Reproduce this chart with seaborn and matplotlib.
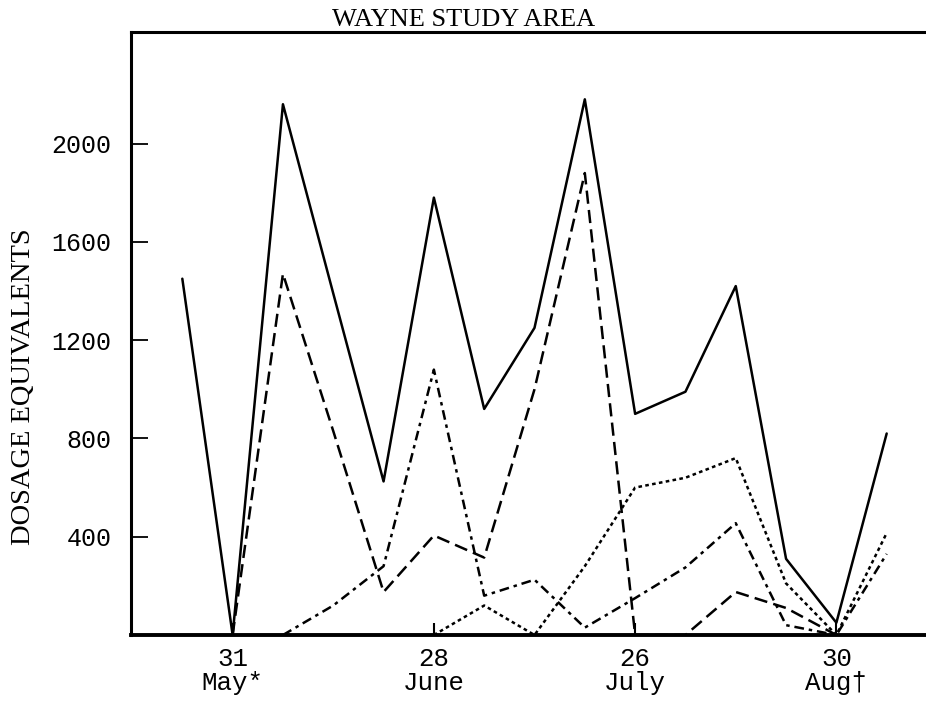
import numpy as np
import pandas as pd
import matplotlib
matplotlib.use("Agg")
import matplotlib.pyplot as plt
import seaborn as sns

# Weekly sampling occasions (index along the season)
sample = list(range(15))
tick_pos = [1, 5, 9, 13]
tick_labels = ["31\nMay*", "28\nJune", "26\nJuly", "30\nAug\u2020"]
y_ticks = [400, 800, 1200, 1600, 2000]

# Dosage equivalents per occasion for each curve
total = [1450, 0, 2160, 1390, 625, 1780, 920, 1250, 2180, 900, 990, 1420, 310, 50, 820]
long_dash = [np.nan, 0, 1470, 830, 175, 405, 315, 1000, 1880, 0, 0, 175, 110, 0, np.nan]
dash_dot = [np.nan, np.nan, 0, 120, 280, 1080, 160, 225, 30, 150, 275, 455, 40, 0, 330]
dotted = [np.nan, np.nan, np.nan, np.nan, np.nan, 0, 120, 0, 280, 600, 640, 720, 210, 0, 415]

series = {"a": total, "b": long_dash, "c": dash_dot, "d": dotted}
df = pd.concat(
    [pd.DataFrame({"sample": sample, "dose": vals, "series": name})
     for name, vals in series.items()],
    ignore_index=True,
).dropna()

sns.set_theme(style="white")
plt.rcParams["lines.scale_dashes"] = False
plt.rcParams["font.family"] = ["Liberation Serif", "DejaVu Serif"]

dash_map = {"a": "", "b": (9.5, 4.5), "c": (7, 3.5, 2.5, 3.5), "d": (2.6, 2.4)}

fig = plt.figure(figsize=(9.26, 7.15), dpi=100)
ax = fig.add_axes([131 / 926, 80 / 715, 806 / 926, 603 / 715])

sns.lineplot(data=df, x="sample", y="dose", style="series", dashes=dash_map,
             style_order=list(series.keys()), color="black", linewidth=1.8,
             estimator=None, legend=False, ax=ax)

ax.set_xlim(-1.02, 15)
ax.set_ylim(0, 2454)
ax.set_xlabel("")
ax.set_ylabel("")

for side in ["left", "top", "bottom"]:
    ax.spines[side].set_visible(True)
    ax.spines[side].set_color("black")
    ax.spines[side].set_linewidth(2.2)
ax.spines["bottom"].set_linewidth(2.8)
ax.spines["right"].set_visible(False)

mono = ["Liberation Mono", "DejaVu Sans Mono"]
ax.set_xticks(tick_pos)
xl = ax.set_xticklabels(tick_labels, fontfamily=mono, fontsize=18.5)
for t in xl:
    t.set_linespacing(0.95)
ax.set_yticks(y_ticks)
ax.set_yticklabels([str(v) for v in y_ticks], fontfamily=mono, fontsize=18)

ax.tick_params(axis="x", direction="in", length=9, width=1.5, pad=9,
               colors="black", bottom=True, top=False)
ax.tick_params(axis="y", direction="in", length=12, width=1.3, pad=14,
               colors="black", left=True, right=False)

fig.text(464 / 926, 1 - 20 / 715, "WAYNE STUDY AREA", ha="center", va="center",
         fontsize=19, color="black")
fig.text(24 / 926, 1 - 387 / 715, "DOSAGE EQUIVALENTS", ha="center", va="center",
         rotation=90, fontsize=20.5, color="black")

fig.savefig("out.png", dpi=100, facecolor="white")
